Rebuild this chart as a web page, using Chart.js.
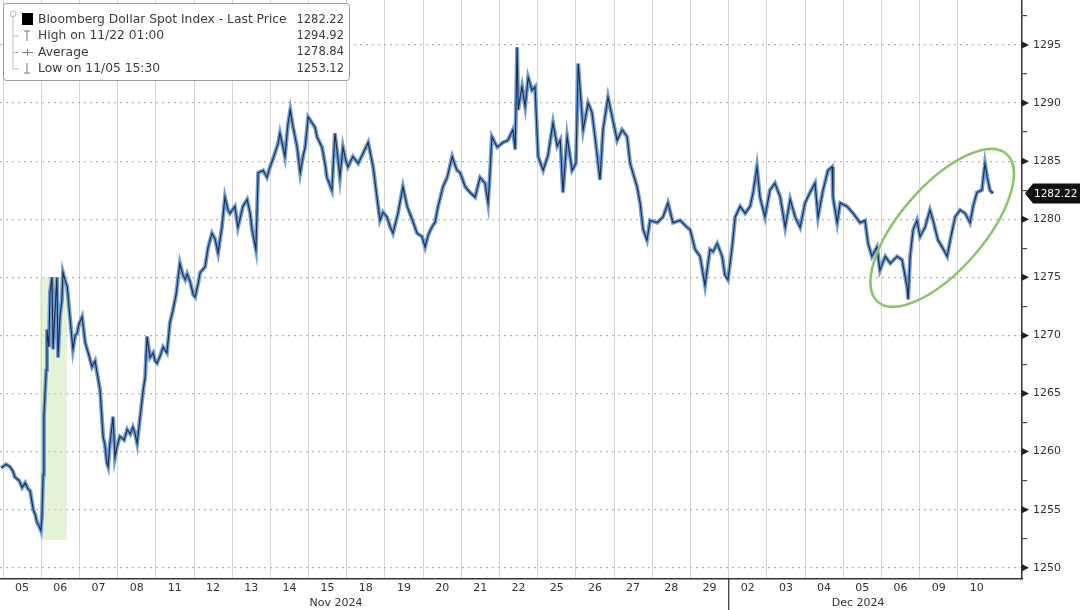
<!DOCTYPE html>
<html>
<head>
<meta charset="utf-8">
<script src="https://cdn.jsdelivr.net/npm/chart.js@4.4.1/dist/chart.umd.min.js"></script>
<style>
  html, body { margin: 0; padding: 0; background: #fff; }
  #wrap { width: 1080px; height: 610px; }
</style>
</head>
<body>
<div id="wrap"><canvas id="dxy" width="1080" height="610"></canvas></div>
<script>
// trading days on the axis (one label per session)
const dayLabels = ["05","06","07","08","11","12","13","14","15","18","19","20","21","22",
                   "25","26","27","28","29","02","03","04","05","06","09","10"];
const monthLabels = ["Nov 2024", "Dec 2024"];
const monthPos = [8.72, 22.39];

// position in trading days since the open of Nov 05
const times = [
  -0.05,0.08,0.18,0.26,0.31,0.42,0.50,0.58,0.65,0.71,0.79,0.84,0.89,0.94,0.99,
  1.02,1.05,1.07,1.13,1.15,1.20,1.23,1.28,1.31,1.36,1.41,1.44,1.49,1.54,1.57,1.62,1.68,1.75,1.83,1.89,1.94,1.99,
  2.07,2.15,2.23,2.33,2.41,2.46,2.54,2.62,2.67,2.72,2.75,2.80,2.88,2.93,2.99,
  3.06,3.17,3.25,3.33,3.40,3.46,3.51,3.59,3.67,3.72,3.77,3.85,3.93,3.98,
  4.03,4.11,4.19,4.29,4.37,4.45,4.53,4.63,4.71,4.77,4.82,4.90,4.98,
  5.03,5.11,5.16,5.29,5.37,5.47,5.55,5.63,5.73,5.81,5.89,5.94,
  6.07,6.15,6.28,6.39,6.47,6.52,6.62,6.68,6.81,6.91,6.99,
  7.07,7.12,7.20,7.25,7.33,7.38,7.46,7.52,7.59,7.70,7.78,7.86,7.91,7.99,
  8.09,8.17,8.22,8.35,8.43,8.48,8.61,8.69,8.77,8.82,8.90,8.98,
  9.03,9.16,9.30,9.43,9.56,9.69,9.79,9.87,9.95,
  10.05,10.13,10.21,10.34,10.47,10.58,10.71,10.84,10.97,
  11.05,11.13,11.18,11.26,11.31,11.39,11.52,11.63,11.76,11.84,11.89,11.97,
  12.10,12.23,12.36,12.49,12.62,12.70,12.75,12.80,12.94,
  13.09,13.22,13.35,13.41,13.46,13.49,13.54,13.59,13.67,13.75,13.85,13.93,
  14.01,14.14,14.27,14.40,14.51,14.59,14.66,14.77,14.90,15.00,
  15.06,15.11,15.19,15.32,15.42,15.50,15.63,15.71,15.84,15.95,
  16.08,16.21,16.34,16.42,16.50,16.60,16.68,16.76,16.86,16.94,
  17.13,17.28,17.41,17.54,17.73,17.91,17.99,
  18.12,18.25,18.38,18.51,18.59,18.70,18.83,18.90,18.98,
  19.09,19.17,19.30,19.43,19.56,19.64,19.74,19.82,19.95,
  20.08,20.21,20.35,20.48,20.61,20.74,20.87,21.00,
  21.13,21.26,21.34,21.47,21.60,21.71,21.73,21.84,21.92,
  22.10,22.26,22.44,22.57,22.65,22.75,22.88,22.96,
  23.10,23.23,23.41,23.54,23.67,23.70,23.75,23.83,23.93,24.01,
  24.14,24.27,24.35,24.48,24.59,24.72,24.80,24.93,
  25.06,25.19,25.32,25.40,25.50,25.63,25.71,25.77,25.84,25.92
];
const prices = [
  1258.6,1258.9,1258.7,1258.3,1257.8,1257.5,1256.9,1257.3,1256.8,1256.6,1255.0,1254.6,1253.9,1253.6,1253.2,
  1254.5,1258.0,1263.0,1267.0,1270.5,1269.0,1273.7,1275.0,1268.8,1272.0,1275.0,1268.1,1271.6,1273.0,1275.4,1274.8,1274.2,1271.6,1268.8,1270.0,1270.2,1271.0,
  1271.6,1269.4,1268.5,1267.3,1267.8,1266.8,1265.3,1261.3,1260.5,1259.0,1258.7,1260.7,1263.0,1259.5,1260.5,
  1261.3,1261.0,1261.9,1261.5,1262.1,1261.5,1260.7,1263.0,1265.3,1266.4,1269.9,1268.1,1268.5,1267.8,
  1267.6,1268.2,1269.0,1268.5,1271.1,1272.2,1273.5,1276.2,1275.2,1274.8,1275.3,1274.6,1273.5,
  1273.3,1274.5,1275.4,1275.9,1277.6,1278.8,1278.3,1277.1,1279.3,1281.9,1280.8,1280.5,
  1281.1,1279.3,1281.1,1281.7,1280.5,1279.1,1277.4,1284.0,1284.2,1283.6,1284.5,
  1285.2,1285.7,1286.5,1287.4,1286.2,1285.4,1288.2,1289.4,1288.0,1286.2,1284.0,1285.5,1286.2,1288.8,
  1288.3,1287.9,1287.1,1286.2,1284.8,1283.6,1282.5,1287.4,1285.2,1283.6,1286.2,1285.0,
  1284.5,1285.4,1284.8,1285.7,1286.6,1284.5,1281.9,1279.9,1280.6,
  1280.2,1279.4,1278.8,1280.5,1282.8,1281.1,1280.0,1278.8,1278.5,
  1277.6,1278.6,1279.0,1279.5,1279.7,1281.1,1282.8,1283.6,1285.4,1284.6,1284.2,1284.0,
  1282.8,1282.3,1281.9,1283.6,1283.1,1281.4,1284.0,1287.1,1286.2,
  1286.6,1286.8,1287.7,1286.0,1294.8,1289.4,1290.5,1291.4,1289.7,1292.2,1291.1,1291.4,
  1285.4,1284.2,1285.5,1288.3,1286.3,1286.8,1282.3,1287.1,1284.2,1284.8,
  1293.4,1291.1,1287.7,1290.0,1289.2,1287.1,1283.4,1287.7,1290.5,1288.8,
  1286.8,1287.7,1287.1,1284.8,1283.9,1282.8,1281.4,1279.1,1278.2,1279.9,
  1279.7,1280.2,1281.4,1279.7,1279.9,1279.3,1279.1,
  1277.4,1276.8,1274.3,1277.4,1277.2,1277.9,1276.8,1275.2,1274.8,
  1277.6,1280.2,1281.1,1280.5,1281.1,1282.3,1284.5,1281.9,1280.2,
  1282.5,1283.1,1281.9,1279.3,1281.7,1280.2,1279.3,1281.4,
  1282.3,1283.1,1280.2,1282.5,1284.2,1284.5,1281.9,1279.7,1281.4,
  1281.1,1280.5,1279.7,1279.9,1277.9,1276.8,1277.6,1275.6,
  1276.8,1276.2,1276.8,1276.5,1274.2,1273.1,1276.8,1279.1,1279.9,1278.5,
  1279.3,1280.8,1279.9,1278.2,1277.6,1276.8,1278.2,1280.2,
  1280.8,1280.5,1279.7,1281.1,1282.3,1282.5,1284.8,1283.6,1282.5,1282.22
];

const lastPrice = 1282.22;
const legendNames = ["Bloomberg Dollar Spot Index - Last Price", "High on 11/22 01:00", "Average", "Low on 11/05 15:30"];
const legendValues = ["1282.22", "1294.92", "1278.84", "1253.12"];

// highlighted election-day window and the circled recent move
const shadeTimes = [0.97, 1.67];
const shadePrices = [1252.4, 1275.0];
const ringCenter = [24.59, 1279.25];

const FONT = '"DejaVu Sans", "Liberation Sans", sans-serif';
const toPoints = () => times.map((t, i) => ({ x: t, y: prices[i] }));

const decor = {
  id: "decor",
  beforeDatasetsDraw(chart) {
    const { ctx, scales: { x, y } } = chart;
    ctx.save();
    ctx.fillStyle = "rgba(205,232,180,0.55)";
    const x0 = x.getPixelForValue(shadeTimes[0]), x1 = x.getPixelForValue(shadeTimes[1]);
    const y0 = y.getPixelForValue(shadePrices[1]), y1 = y.getPixelForValue(shadePrices[0]);
    ctx.fillRect(x0, y0, x1 - x0, y1 - y0);
    ctx.restore();
  },
  afterDatasetsDraw(chart) {
    const { ctx, chartArea: a, scales: { x, y } } = chart;
    ctx.save();

    // green ring
    ctx.strokeStyle = "#8cc46c";
    ctx.lineWidth = 2.5;
    ctx.beginPath();
    ctx.ellipse(x.getPixelForValue(ringCenter[0]), y.getPixelForValue(ringCenter[1]), 98, 42, -49 * Math.PI / 180, 0, Math.PI * 2);
    ctx.stroke();

    // month separator below axis
    const sep = x.getPixelForValue(19);
    ctx.strokeStyle = "#333";
    ctx.lineWidth = 1.2;
    ctx.beginPath();
    ctx.moveTo(sep, a.bottom);
    ctx.lineTo(sep, chart.height);
    ctx.stroke();

    // month captions
    ctx.fillStyle = "#333";
    ctx.font = "11px " + FONT;
    ctx.textAlign = "center";
    ctx.textBaseline = "middle";
    monthLabels.forEach((m, i) => ctx.fillText(m, x.getPixelForValue(monthPos[i]), 603));

    // arrow heads on major y ticks
    ctx.fillStyle = "#222";
    for (let v = 1250; v <= 1295; v += 5) {
      const py = y.getPixelForValue(v);
      ctx.beginPath();
      ctx.moveTo(a.right, py - 3.5);
      ctx.lineTo(a.right + 7, py);
      ctx.lineTo(a.right, py + 3.5);
      ctx.closePath();
      ctx.fill();
    }

    // last price tag
    const ly = y.getPixelForValue(lastPrice);
    ctx.fillStyle = "#111";
    ctx.beginPath();
    ctx.moveTo(a.right + 3, ly);
    ctx.lineTo(a.right + 11, ly - 10);
    ctx.lineTo(chart.width, ly - 10);
    ctx.lineTo(chart.width, ly + 10);
    ctx.lineTo(a.right + 11, ly + 10);
    ctx.closePath();
    ctx.fill();
    ctx.fillStyle = "#fff";
    ctx.font = "10.5px " + FONT;
    ctx.textAlign = "left";
    ctx.fillText(lastPrice.toFixed(2), a.right + 12, ly + 0.5);

    // legend box
    ctx.fillStyle = "#fff";
    ctx.strokeStyle = "#9a9a9a";
    ctx.lineWidth = 1;
    ctx.beginPath();
    ctx.roundRect(3.5, 3.5, 346, 77, 3);
    ctx.fill();
    ctx.stroke();

    const rowY = [20, 36, 52.5, 69];
    ctx.strokeStyle = "#bbb";
    ctx.beginPath();
    ctx.moveTo(13, 15);
    ctx.lineTo(13, rowY[3]);
    rowY.slice(1).forEach(r => { ctx.moveTo(13, r); ctx.lineTo(19, r); });
    ctx.stroke();
    ctx.beginPath();
    ctx.arc(13, 14, 3, 0, Math.PI * 2);
    ctx.stroke();

    ctx.fillStyle = "#000";
    ctx.fillRect(22, 13, 11, 12);
    ctx.strokeStyle = "#777";
    ctx.beginPath();
    ctx.moveTo(24, 31); ctx.lineTo(30, 31); ctx.moveTo(27, 31); ctx.lineTo(27, 41);
    ctx.moveTo(22, 52.5); ctx.lineTo(33, 52.5); ctx.moveTo(27.5, 49.5); ctx.lineTo(27.5, 55.5);
    ctx.moveTo(27, 63); ctx.lineTo(27, 73); ctx.moveTo(24, 73); ctx.lineTo(30, 73);
    ctx.stroke();

    ctx.fillStyle = "#3c3c3c";
    ctx.textBaseline = "middle";
    legendNames.forEach((n, i) => {
      ctx.font = "12.3px " + FONT;
      ctx.textAlign = "left";
      ctx.fillText(n, 38, rowY[i]);
      ctx.font = "11.5px " + FONT;
      ctx.textAlign = "right";
      ctx.fillText(legendValues[i], 344, rowY[i]);
    });
    ctx.restore();
  }
};

new Chart(document.getElementById("dxy"), {
  type: "line",
  data: {
    datasets: [
      // dark price line on top, pale blue halo underneath
      { data: toPoints(), borderColor: "#1b2a48", borderWidth: 1.1, pointRadius: 0, tension: 0, order: 1 },
      { data: toPoints(), borderColor: "#6f9dd4", borderWidth: 4, pointRadius: 0, tension: 0, order: 2 }
    ]
  },
  options: {
    responsive: false,
    animation: false,
    parsing: false,
    layout: { padding: 0 },
    plugins: { legend: { display: false }, tooltip: { enabled: false } },
    scales: {
      x: {
        type: "linear",
        position: "bottom",
        min: -0.08,
        max: 26.68,
        afterBuildTicks: s => { s.ticks = dayLabels.map((_, i) => ({ value: i })); },
        afterFit: s => { s.height = 31; s.paddingLeft = 0; s.paddingRight = 0; },
        ticks: {
          autoSkip: false,
          maxRotation: 0,
          labelOffset: 19,
          padding: 3,
          color: "#333",
          font: { size: 11, family: FONT },
          callback: (v, i) => dayLabels[i]
        },
        grid: { color: "#d6d6d6", lineWidth: 1, drawTicks: false },
        border: { color: "#333", width: 1.5 }
      },
      y: {
        position: "right",
        min: 1249.03,
        max: 1298.87,
        afterBuildTicks: s => {
          const t = [];
          for (let v = 1250; v <= 1297.5; v += 2.5) t.push({ value: v });
          s.ticks = t;
        },
        afterFit: s => { s.width = 58; s.paddingTop = 0; s.paddingBottom = 0; },
        ticks: {
          padding: 6,
          color: "#333",
          font: { size: 11, family: FONT },
          callback: v => (v % 5 === 0 ? String(v) : "")
        },
        grid: {
          color: c => (c.tick && c.tick.value % 5 === 0 ? "#b4b4b4" : "rgba(0,0,0,0)"),
          tickColor: c => (c.tick && c.tick.value % 5 === 0 ? "rgba(0,0,0,0)" : "#444"),
          tickLength: 5,
          lineWidth: 1.2
        },
        border: { color: "#333", width: 1.5, dash: [2, 4] }
      }
    }
  },
  plugins: [decor]
});
</script>
</body>
</html>
